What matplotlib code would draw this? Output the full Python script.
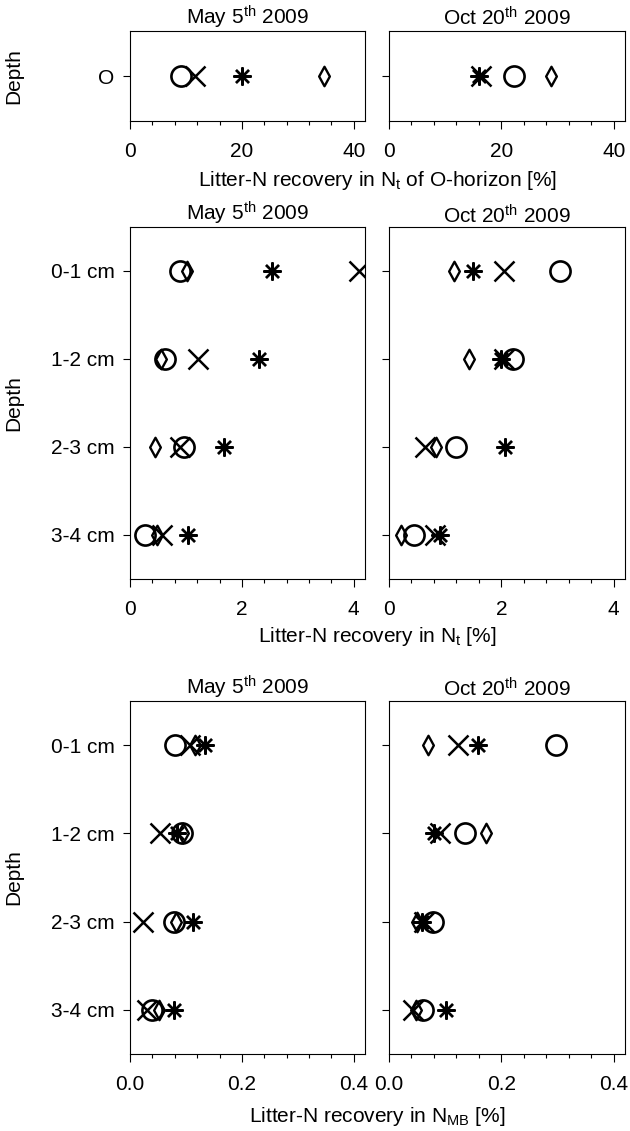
import numpy as np
import matplotlib
matplotlib.use('Agg')
import matplotlib.pyplot as plt
from matplotlib.ticker import MultipleLocator
from matplotlib.path import Path

plt.rcParams['font.family'] = ['Liberation Sans', 'DejaVu Sans']
plt.rcParams['font.size'] = 15
plt.rcParams['mathtext.fontset'] = 'custom'
plt.rcParams['mathtext.rm'] = 'Liberation Sans'
plt.rcParams['mathtext.it'] = 'Liberation Sans:italic'

# sampling dates (one column each)
dates = ['May 5$^{\\mathrm{th}}$ 2009', 'Oct 20$^{\\mathrm{th}}$ 2009']

# O-horizon, litter-N recovery in Nt [%]  (May, Oct)
o_depth = ['O']
o_circle = [[9.2], [22.3]]
o_cross = [[11.7], [16.3]]
o_star = [[20.0], [16.1]]
o_diamond = [[34.7], [28.9]]

# mineral soil layers
depths = ['0-1 cm', '1-2 cm', '2-3 cm', '3-4 cm']

# litter-N recovery in Nt [%]
nt_circle = [[0.90, 0.63, 0.96, 0.27], [3.05, 2.21, 1.20, 0.45]]
nt_cross = [[4.09, 1.21, 0.89, 0.58], [2.04, 2.05, 0.64, 0.81]]
nt_star = [[2.54, 2.31, 1.68, 1.03], [1.49, 2.00, 2.06, 0.91]]
nt_diamond = [[1.01, 0.55, 0.45, 0.48], [1.16, 1.42, 0.84, 0.21]]

# litter-N recovery in microbial biomass N [%]
mb_circle = [[0.080, 0.093, 0.078, 0.039], [0.297, 0.136, 0.078, 0.060]]
mb_cross = [[0.108, 0.054, 0.024, 0.030], [0.123, 0.090, 0.062, 0.042]]
mb_star = [[0.134, 0.084, 0.112, 0.078], [0.159, 0.080, 0.058, 0.102]]
mb_diamond = [[0.116, 0.094, 0.082, 0.051], [0.070, 0.172, 0.050, 0.048]]

W, H = 630, 1131
fig = plt.figure(figsize=(W / 100, H / 100), dpi=100)

def rect(x0, x1, y0, y1):
    # pixel box -> figure fraction
    return [x0 / W, 1 - y1 / H, (x1 - x0) / W, (y1 - y0) / H]

cols = [(130, 365), (389, 625)]
rows = [(31, 121), (227, 579), (701, 1054)]

thin_diamond = Path([(0, 1), (0.55, 0), (0, -1), (-0.55, 0), (0, 1)],
                    [Path.MOVETO, Path.LINETO, Path.LINETO, Path.LINETO, Path.CLOSEPOLY])
star = (8, 2, 0)

def panel(ax, labels, circ, crs, st, dia, xmax, major, minor, fmt, show_labels):
    y = np.arange(len(labels))
    ax.plot(circ, y, 'o', ms=14.5, mfc='none', mec='k', mew=1.9, ls='none')
    ax.plot(crs, y, 'x', ms=15, mec='k', mew=1.8, ls='none')
    ax.plot(st, y, marker=star, ms=13, mec='k', mew=1.7, ls='none')
    ax.plot(dia, y, marker=thin_diamond, ms=14, mfc='none', mec='k', mew=1.7, ls='none')
    ax.set_xlim(0, xmax)
    ax.set_ylim(len(labels) - 0.5, -0.5)
    ax.set_yticks(y)
    if show_labels:
        ax.set_yticklabels(labels)
    else:
        ax.set_yticklabels([])
    ax.xaxis.set_major_locator(MultipleLocator(major))
    ax.xaxis.set_minor_locator(MultipleLocator(minor))
    ax.xaxis.set_major_formatter(plt.FormatStrFormatter(fmt))
    ax.tick_params(axis='x', which='major', direction='out', length=6, width=0.8, pad=9)
    ax.tick_params(axis='x', which='minor', direction='out', length=3, width=0.8)
    ax.tick_params(axis='y', direction='out', length=5, width=0.8, pad=6)
    for s in ax.spines.values():
        s.set_linewidth(0.8)

groups = [
    (o_depth, o_circle, o_cross, o_star, o_diamond, 42, 20, 4, '%d',
     'Litter-N recovery in N$_{\\mathrm{t}}$ of O-horizon [%]', 181, 4),
    (depths, nt_circle, nt_cross, nt_star, nt_diamond, 4.2, 2, 0.4, '%d',
     'Litter-N recovery in N$_{\\mathrm{t}}$ [%]', 637, 0),
    (depths, mb_circle, mb_cross, mb_star, mb_diamond, 0.42, 0.2, 0.04, '%.1f',
     'Litter-N recovery in N$_{\\mathrm{MB}}$ [%]', 1117, 2),
]

for (y0, y1), g in zip(rows, groups):
    labels, circ, crs, st, dia, xmax, major, minor, fmt, xlabel, ylab_y, tpad = g
    for j, (x0, x1) in enumerate(cols):
        ax = fig.add_axes(rect(x0, x1, y0, y1))
        panel(ax, labels, circ[j], crs[j], st[j], dia[j], xmax, major, minor, fmt, j == 0)
        ax.set_title(dates[j], fontsize=15, pad=tpad)
        if j == 0:
            ax.set_ylabel('Depth')
            # same left position for every row
            ax.yaxis.set_label_coords((23 - x0) / (x1 - x0), 0.5)
    fig.text((cols[0][0] + cols[1][1]) / 2 / W, 1 - ylab_y / H, xlabel,
             ha='center', va='center', fontsize=15)

fig.savefig('out.png', dpi=100)
